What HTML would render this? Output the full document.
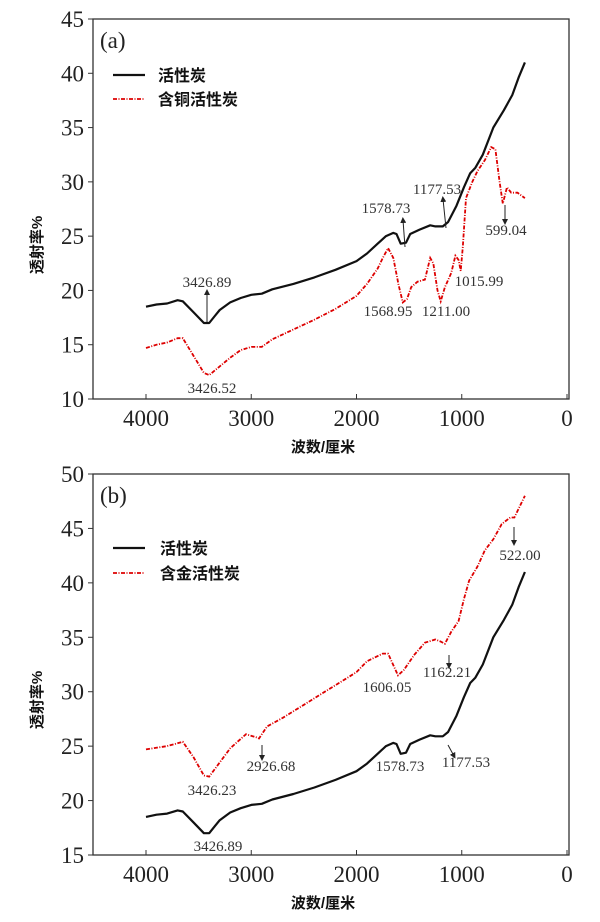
<!DOCTYPE html>
<html><head><meta charset="utf-8">
<style>
body{margin:0;background:#fff;}
svg{display:block;}
.t{font-family:"Liberation Serif",serif;font-size:23px;fill:#222;}
.a{font-family:"Liberation Serif",serif;font-size:15px;fill:#333;}
.c{font-family:"Liberation Sans","Noto Sans CJK SC",sans-serif;font-size:16px;font-weight:bold;fill:#111;}
.c2{font-family:"Liberation Sans","Noto Sans CJK SC",sans-serif;font-size:15px;font-weight:bold;fill:#111;}
</style></head><body>
<svg id="s" width="600" height="922" viewBox="0 0 600 922" xmlns="http://www.w3.org/2000/svg">
<defs><marker id="ar" markerWidth="6" markerHeight="6" refX="3" refY="3" orient="auto"><path d="M0,0L6,3L0,6z" fill="#222"/></marker></defs>
<g id="g"></g>
<rect x="93" y="19" width="476" height="380" fill="none" stroke="#333" stroke-width="1.3"/>
<text class="t" x="100" y="48" font-size="21">(a)</text>
<line x1="113" y1="75" x2="145" y2="75" stroke="#111" stroke-width="2.2"/>
<text class="c" x="158" y="81">活性炭</text>
<line x1="113" y1="99" x2="145" y2="99" stroke="#d00" stroke-width="1.8" stroke-dasharray="4,1.5,1,1.5"/>
<text class="c" x="158" y="105">含铜活性炭</text>
<text class="c2" x="323" y="452" text-anchor="middle">波数/厘米</text>
<text class="c2" transform="translate(42,245) rotate(-90)" text-anchor="middle">透射率%</text>
<text class="a" x="207" y="287" text-anchor="middle">3426.89</text>
<line x1="207" y1="322" x2="207" y2="292" stroke="#222" marker-end="url(#ar)"/>
<text class="a" x="212" y="393" text-anchor="middle">3426.52</text>
<text class="a" x="386" y="213" text-anchor="middle">1578.73</text>
<line x1="405" y1="247" x2="403" y2="220" stroke="#222" marker-end="url(#ar)"/>
<text class="a" x="437" y="194" text-anchor="middle">1177.53</text>
<line x1="446" y1="228" x2="443" y2="199" stroke="#222" marker-end="url(#ar)"/>
<text class="a" x="506" y="235" text-anchor="middle">599.04</text>
<line x1="505" y1="205" x2="505" y2="222" stroke="#222" marker-end="url(#ar)"/>
<text class="a" x="388" y="316" text-anchor="middle">1568.95</text>
<text class="a" x="446" y="316" text-anchor="middle">1211.00</text>
<text class="a" x="479" y="286" text-anchor="middle">1015.99</text>
<rect x="93" y="474" width="476" height="381" fill="none" stroke="#333" stroke-width="1.3"/>
<text class="t" x="100" y="503" font-size="21">(b)</text>
<line x1="113" y1="548" x2="145" y2="548" stroke="#111" stroke-width="2.2"/>
<text class="c" x="160" y="554">活性炭</text>
<line x1="113" y1="573" x2="145" y2="573" stroke="#d00" stroke-width="1.8" stroke-dasharray="4,1.5,1,1.5"/>
<text class="c" x="160" y="579">含金活性炭</text>
<text class="c2" x="323" y="908" text-anchor="middle">波数/厘米</text>
<text class="c2" transform="translate(42,700) rotate(-90)" text-anchor="middle">透射率%</text>
<text class="a" x="212" y="795" text-anchor="middle">3426.23</text>
<text class="a" x="271" y="771" text-anchor="middle">2926.68</text>
<line x1="262" y1="745" x2="262" y2="758" stroke="#222" marker-end="url(#ar)"/>
<text class="a" x="387" y="692" text-anchor="middle">1606.05</text>
<text class="a" x="447" y="677" text-anchor="middle">1162.21</text>
<line x1="449" y1="655" x2="449" y2="666" stroke="#222" marker-end="url(#ar)"/>
<text class="a" x="520" y="560" text-anchor="middle">522.00</text>
<line x1="514" y1="527" x2="514" y2="543" stroke="#222" marker-end="url(#ar)"/>
<text class="a" x="400" y="771" text-anchor="middle">1578.73</text>
<text class="a" x="466" y="767" text-anchor="middle">1177.53</text>
<line x1="448" y1="745" x2="454" y2="756" stroke="#222" marker-end="url(#ar)"/>
<text class="a" x="218" y="851" text-anchor="middle">3426.89</text>
</svg>
<script>
var g=document.getElementById('g');var NS='http://www.w3.org/2000/svg';
function X(w){return 567-w*0.10525;}
function el(n,a,t){var e=document.createElementNS(NS,n);for(var k in a)e.setAttribute(k,a[k]);if(t!==undefined)e.textContent=t;g.appendChild(e);return e;}
var black=[[4000,18.5],[3900,18.7],[3800,18.8],[3700,19.1],[3650,19.0],[3550,18.0],[3450,17.0],[3400,17.0],[3350,17.6],[3300,18.2],[3200,18.9],[3100,19.3],[3000,19.6],[2900,19.7],[2800,20.1],[2600,20.6],[2400,21.2],[2200,21.9],[2000,22.7],[1900,23.4],[1800,24.3],[1720,25.0],[1650,25.3],[1620,25.2],[1580,24.3],[1530,24.4],[1490,25.2],[1400,25.6],[1300,26.0],[1250,25.9],[1180,25.9],[1130,26.3],[1050,27.8],[980,29.5],[920,30.8],[870,31.3],[800,32.5],[700,35.0],[600,36.6],[520,38.0],[460,39.6],[400,41.0]];
var redA=[[4000,14.7],[3900,15.0],[3800,15.2],[3700,15.6],[3650,15.6],[3550,14.0],[3450,12.4],[3400,12.2],[3300,13.0],[3200,13.8],[3100,14.5],[3000,14.8],[2900,14.8],[2800,15.5],[2600,16.4],[2400,17.3],[2200,18.3],[2000,19.5],[1900,20.6],[1800,22.0],[1750,23.0],[1700,23.9],[1650,23.0],[1600,20.5],[1560,18.9],[1520,19.2],[1480,20.3],[1420,20.8],[1350,21.0],[1300,23.0],[1270,22.5],[1230,20.0],[1200,19.0],[1160,20.3],[1100,21.6],[1060,23.2],[1030,22.8],[1010,21.8],[990,24.0],[960,28.5],[900,30.0],[850,31.0],[780,32.0],[720,33.2],[680,33.0],[640,30.0],[610,28.0],[570,29.5],[530,29.0],[470,29.0],[400,28.5]];
var redB=[[4000,24.7],[3800,25.0],[3650,25.4],[3550,24.0],[3450,22.3],[3400,22.2],[3300,23.5],[3200,24.8],[3050,26.1],[2950,25.8],[2926,25.7],[2850,26.8],[2700,27.6],[2500,28.8],[2300,30.0],[2100,31.2],[2000,31.8],[1900,32.8],[1750,33.5],[1700,33.5],[1606,31.5],[1550,32.0],[1450,33.4],[1350,34.5],[1250,34.8],[1200,34.6],[1160,34.4],[1100,35.5],[1030,36.5],[980,38.5],[930,40.2],[850,41.5],[780,43.0],[700,44.0],[620,45.4],[540,46.0],[500,46.0],[450,47.0],[400,48.0]];
function panel(top,bot,vmin,vmax,step,blk,red){
 function Y(v){return bot-(v-vmin)*(bot-top)/(vmax-vmin);}
 for(var v=vmin;v<=vmax;v+=step){var y=Y(v);el('line',{x1:88,y1:y,x2:93,y2:y,stroke:'#333'});el('text',{'class':'t',x:84,y:y+8,'text-anchor':'end'},v);}
 for(var w=4000;w>=0;w-=1000){var x=X(w);el('line',{x1:x,y1:bot,x2:x,y2:bot-5,stroke:'#333'});el('text',{'class':'t',x:x,y:bot+27,'text-anchor':'middle'},w);}
 function pts(d){return d.map(function(p){return X(p[0]).toFixed(1)+','+Y(p[1]).toFixed(1);}).join(' ');}
 el('polyline',{points:pts(blk),fill:'none',stroke:'#111','stroke-width':2.2,'stroke-linejoin':'round'});
 el('polyline',{points:pts(red),fill:'none',stroke:'#d00','stroke-width':1.8,'stroke-dasharray':'4,1.5,1,1.5'});
}
panel(19,399,10,45,5,black,redA);
panel(474,855,15,50,5,black,redB);
</script>
</body></html>
